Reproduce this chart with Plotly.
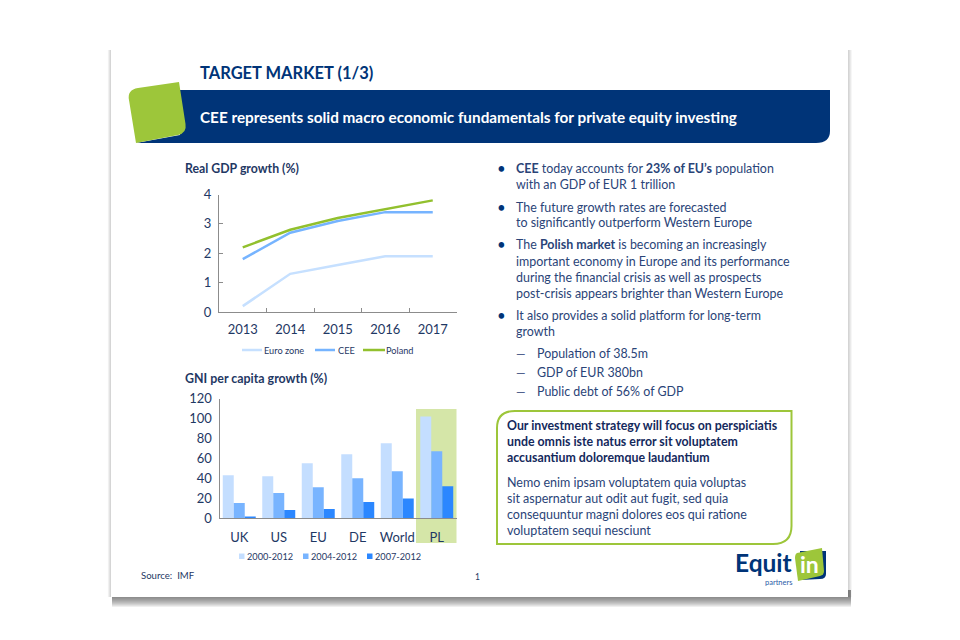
import plotly.graph_objects as go

years = ["2013", "2014", "2015", "2016", "2017"]
euro_zone = [0.2, 1.3, 1.6, 1.9, 1.9]
cee = [1.8, 2.7, 3.1, 3.4, 3.4]
poland = [2.2, 2.8, 3.2, 3.5, 3.8]

regions = ["UK", "US", "EU", "DE", "World", "PL"]
p2000 = [43, 42, 55, 64, 75, 102]
p2004 = [15, 25, 31, 40, 47, 67]
p2007 = [1.5, 8, 9, 16, 19.5, 32]

NAVY = "#003478"
TEXT = "#1F3864"
BODY = "#2A4478"
GREEN = "#9DC63A"
FONT = "Lato"
C_EURO, C_CEE, C_POL = "#C6E0FF", "#76B4FF", "#92C02E"
C_A, C_B, C_C = "#C4DEFF", "#78B4FF", "#2B87FF"

px = lambda x: x / 960
py = lambda y: 1 - y / 640

fig = go.Figure()

for name, vals, col in [("Euro zone", euro_zone, C_EURO), ("CEE", cee, C_CEE), ("Poland", poland, C_POL)]:
    fig.add_trace(go.Scatter(x=years, y=vals, name=name, mode="lines", line=dict(color=col, width=2.5),
                             xaxis="x", yaxis="y", hoverinfo="skip"))
for name, vals, col in [("2000-2012", p2000, C_A), ("2004-2012", p2004, C_B), ("2007-2012", p2007, C_C)]:
    fig.add_trace(go.Bar(x=regions, y=vals, name=name, marker=dict(color=col, line=dict(width=0)),
                         xaxis="x2", yaxis="y2", hoverinfo="skip"))

shapes = []
# slide shadow: soft on the sides, heavy along the bottom
for i in range(1, 9):
    shapes.append(dict(type="rect", xref="paper", yref="paper", layer="below",
                       x0=px(111 - i * 0.4), x1=px(848 + i * 0.5), y0=py(597), y1=py(50),
                       fillcolor="rgba(70,70,70,0.03)", line_width=0))
for i in range(1, 11):
    shapes.append(dict(type="rect", xref="paper", yref="paper", layer="below",
                       x0=px(111 + 1), x1=px(848 + 3), y0=py(597 + i), y1=py(590),
                       fillcolor="rgba(70,70,70,0.085)", line_width=0))
# slide
shapes.append(dict(type="rect", xref="paper", yref="paper", layer="below", x0=px(111), x1=px(848), y0=py(597), y1=py(50),
                   fillcolor="white", line_width=0))

def path(points):
    out = []
    for p in points:
        if len(p) == 2:
            out.append(("M" if not out else "L") + f" {px(p[0]):.5f},{py(p[1]):.5f}")
        else:
            out.append(f"Q {px(p[0]):.5f},{py(p[1]):.5f} {px(p[2]):.5f},{py(p[3]):.5f}")
    return " ".join(out) + " Z"

def add_path(points, fill, line=None, width=0):
    shapes.append(dict(type="path", xref="paper", yref="paper", layer="below", path=path(points),
                       fillcolor=fill, line=dict(color=line or fill, width=width)))

# banner
add_path([(180, 90), (830, 90), (830, 131), (830, 143, 816, 143), (136, 143), (180, 135)], NAVY)
# green tab
add_path([(179, 82), (185.5, 124), (187, 133, 178, 135), (136, 143), (129, 100), (127, 90, 138, 88)], GREEN)
# highlight band
shapes.append(dict(type="rect", xref="paper", yref="paper", layer="below", x0=px(416), x1=px(456.5), y0=py(543), y1=py(409),
                   fillcolor="#D5E6A8", line_width=0))
# rounded text box
add_path([(497, 544), (497, 428), (497, 411, 515, 411), (791.5, 411), (791.5, 526), (791.5, 544, 773, 544)],
         "rgba(255,255,255,0)", GREEN, 2)
# logo
add_path([(800, 551), (826, 551), (826, 574), (826, 579, 820, 579), (800, 580)], NAVY)
add_path([(797, 553), (822, 548), (824, 571), (824, 575, 820, 576), (798, 581), (795, 558), (795, 554, 797, 553)], GREEN)

ann = []
def text(x, y, s, size=12, color=BODY, anchor="left"):
    ann.append(dict(xref="paper", yref="paper", x=px(x), y=py(y), text=s, showarrow=False, xanchor=anchor, yanchor="middle",
                    font=dict(family=FONT, size=size, color=color), borderpad=0, borderwidth=0))

text(200, 73, "<b>TARGET MARKET (1/3)</b>", 16.5, NAVY)
text(200, 117, "<b>CEE represents solid macro economic fundamentals for private equity investing</b>", 15.3, "white")
text(185, 168.5, "<b>Real GDP growth (%)</b>", 12.3, TEXT)
text(185, 378, "<b>GNI per capita growth (%)</b>", 12.4, TEXT)

bullets = [
    (168.5, "<b>CEE</b> today accounts for <b>23% of EU’s</b> population", True),
    (184.5, "with an GDP of EUR 1 trillion", False),
    (207, "The future growth rates are forecasted", True),
    (223, "to significantly outperform Western Europe", False),
    (244.5, "The <b>Polish market</b> is becoming an increasingly", True),
    (261, "important economy in Europe and its performance", False),
    (277, "during the financial crisis as well as prospects", False),
    (293, "post-crisis appears brighter than Western Europe", False),
    (315, "It also provides a solid platform for long-term", True),
    (331, "growth", False),
]
for y, s, dot in bullets:
    text(516, y, s, 12.45)
    if dot:
        text(501, y - 0.5, "•", 15, NAVY, "center")
for y, s in [(353, "Population of 38.5m"), (372, "GDP of EUR 380bn"), (391, "Public debt of 56% of GDP")]:
    text(516, y, "—", 12)
    text(537, y, s, 12.45)

for y, s in [(425, "Our investment strategy will focus on perspiciatis"), (441, "unde omnis iste natus error sit voluptatem"),
             (457, "accusantium doloremque laudantium")]:
    text(507, y, f"<b>{s}</b>", 12.35, "#14295C")
for y, s in [(482, "Nemo enim ipsam voluptatem quia voluptas"), (498, "sit aspernatur aut odit aut fugit, sed quia"),
             (514, "consequuntur magni dolores eos qui ratione"), (530, "voluptatem sequi nesciunt")]:
    text(507, y, s, 12.5)

text(141, 575, "Source:  IMF", 9.6, TEXT)
text(477, 577, "1", 8.5, TEXT, "center")
text(735, 562, "<b>Equit</b>", 24.5, NAVY)
text(809, 564, "<b>in</b>", 23, "white", "center")
text(778, 582, "partners", 7.5, "#2A5CA8", "center")

# legend keys
for x0, x1, col, label, tx in [(242, 262, C_EURO, "Euro zone", 264), (315, 335, C_CEE, "CEE", 338), (363, 385, C_POL, "Poland", 386)]:
    shapes.append(dict(type="line", xref="paper", yref="paper", x0=px(x0), x1=px(x1), y0=py(350), y1=py(350),
                       line=dict(color=col, width=2.5)))
    text(tx, 350, label, 9.2, TEXT)
for x0, col, label in [(239, C_A, "2000-2012"), (303, C_B, "2004-2012"), (367, C_C, "2007-2012")]:
    shapes.append(dict(type="rect", xref="paper", yref="paper", x0=px(x0), x1=px(x0 + 5.5), y0=py(559), y1=py(553.5),
                       fillcolor=col, line_width=0))
    text(x0 + 7.5, 556.5, label, 9.2, TEXT)

axis_col = "#8C8C8C"
tick = dict(family=FONT, size=13, color=TEXT)
fig.update_layout(
    width=960, height=640, autosize=False, margin=dict(l=0, r=0, t=0, b=0, pad=0, autoexpand=False),
    paper_bgcolor="white", plot_bgcolor="rgba(0,0,0,0)", shapes=shapes, annotations=ann,
    font=dict(family=FONT, color=TEXT), barmode="group", bargap=0.165, bargroupgap=0, showlegend=False,
    xaxis=dict(domain=[px(219), px(456.5)], anchor="y", type="category", range=[-0.5, 4.5], tickson="boundaries",
               ticks="inside", ticklen=4, tickcolor=axis_col, showline=True, linecolor=axis_col, linewidth=1.3,
               showgrid=False, zeroline=False, tickfont=tick, ticklabelstandoff=5),
    yaxis=dict(domain=[py(312), py(194.5)], anchor="x", range=[0, 4], tickvals=[0, 1, 2, 3, 4], ticks="inside", ticklen=4,
               tickcolor=axis_col, showline=True, linecolor=axis_col, linewidth=1.3, showgrid=False, zeroline=False,
               tickfont=tick, ticklabelstandoff=4),
    xaxis2=dict(domain=[px(219.5), px(456.5)], anchor="y2", type="category", showline=True, linecolor=axis_col, linewidth=1.3,
                ticks="", showgrid=False, zeroline=False, tickfont=tick, ticklabelstandoff=7),
    yaxis2=dict(domain=[py(518), py(398.5)], anchor="x2", range=[0, 120], tickvals=[0, 20, 40, 60, 80, 100, 120], ticks="",
                showline=True, linecolor=axis_col, linewidth=1.3, showgrid=False, zeroline=False, tickfont=tick,
                ticklabelstandoff=4),
)
fig.write_html("out.html", config=dict(displayModeBar=False),
               post_script="document.body.style.margin='0';document.body.style.overflow='hidden';")
